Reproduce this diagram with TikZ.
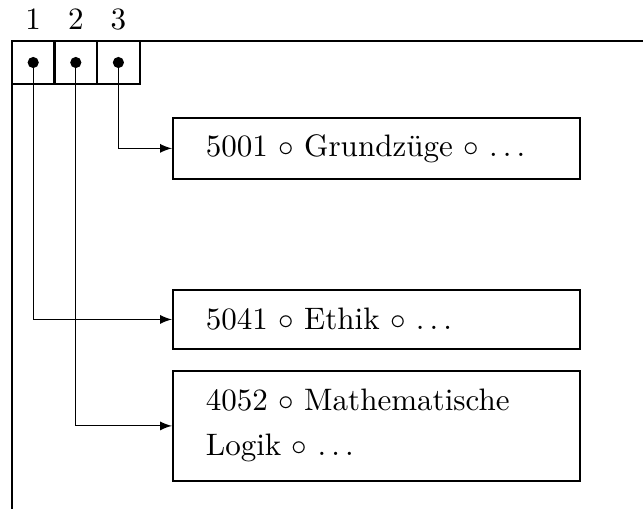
\documentclass[tikz,border=0pt]{standalone}
\usepackage{tikz}
\usetikzlibrary{positioning}
\usepackage{amsmath}

\tikzset{
	cell/.style={draw,line width=0.6pt,minimum size=13.8pt,inner sep=0pt},
	dot/.style={fill,circle,inner sep=0pt,minimum size=3.6pt},
	entry/.style={draw,line width=0.6pt,anchor=north west,minimum width=131pt,
		text width=109.8pt,inner xsep=10.6pt,align=left,
		font=\fontsize{10}{14.5}\selectfont},
}

\begin{document}
\begin{tikzpicture}[x=0.322pt,y=-0.322pt]
		\useasboundingbox (0,0) rectangle (643,509);
		%the frame
		\draw[line width=0.6pt] (12,509) |- (643,41);
		%put the cells with their numbers on top
		\foreach \x[count=\xi] in {33.2,75.8,118.4}{
			\node[cell] (c\xi) at (\x,62.5) {};
			\node[dot] (p\xi) at (c\xi.center) {};
			\node (n\xi) at (\x,19) {\xi};
		}
		%put the entries on the right
		\node[entry,minimum height=19.6pt] (e1) at (172,117) {5001 $\circ$ Grundz\"uge $\circ$ $\ldots$};
		\node[entry,minimum height=19pt] (e2) at (172,289) {5041 $\circ$ Ethik $\circ$ $\ldots$};
		\node[entry,minimum height=35.4pt] (e3) at (172,370) {4052 $\circ$ Mathematische\\Logik $\circ$ $\ldots$};
		\draw[-latex,line width=0.35pt] (p3.center) |- (e1.west);
		\draw[-latex,line width=0.35pt] (p1.center) |- (e2.west);
		\draw[-latex,line width=0.35pt] (p2.center) |- (e3.west);
\end{tikzpicture}
\end{document}
